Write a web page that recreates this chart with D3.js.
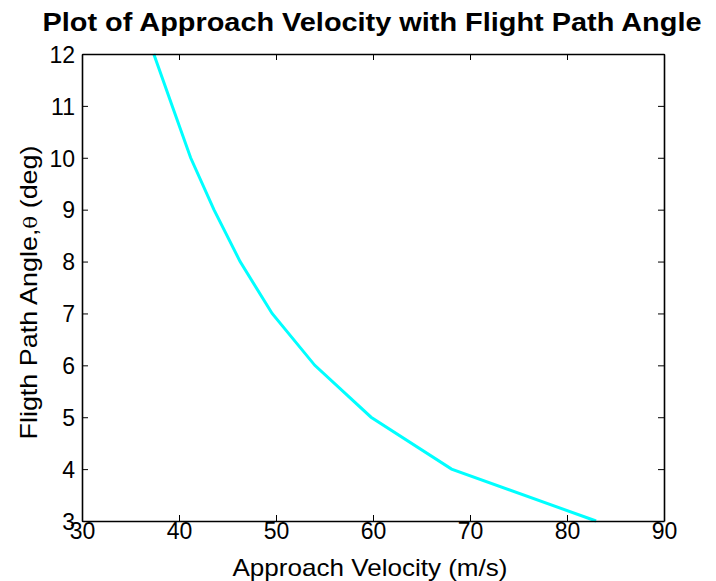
<!DOCTYPE html>
<html>
<head>
<meta charset="utf-8">
<script src="https://cdn.jsdelivr.net/npm/d3@7"></script>
<style>
  html, body { margin: 0; padding: 0; background: #fff; }
  svg { display: block; font-family: "Liberation Sans", Arial, sans-serif; }
</style>
</head>
<body>
<svg id="chart" width="716" height="581"></svg>
<script>
// Flight path angle (deg) and the matching approach velocity (m/s)
const angles = [3, 4, 5, 6, 7, 8, 9, 10, 11, 12];
const velocities = [83.0, 68.1, 59.8, 54.0, 49.6, 46.3, 43.6, 41.2, 39.3, 37.4];
const xTicks = [30, 40, 50, 60, 70, 80, 90];
const yTicks = [3, 4, 5, 6, 7, 8, 9, 10, 11, 12];

const titleText = "Plot of Approach Velocity with Flight Path Angle";
const xLabel = "Approach Velocity (m/s)";

const svg = d3.select("#chart");
const plotL = 82, plotR = 664, plotT = 54, plotB = 521;

const x = d3.scaleLinear().domain([30, 90]).range([plotL, plotR]);
const y = d3.scaleLinear().domain([3, 12]).range([plotB, plotT]);

// Curve
const line = d3.line()
  .x((d, i) => x(velocities[i]))
  .y(d => y(d));

svg.append("path")
  .datum(angles)
  .attr("d", line)
  .attr("fill", "none")
  .attr("stroke", "#00ffff")
  .attr("stroke-width", 3);

// Axes with inward ticks on all four sides
const tickLen = 6;
const axisStyle = g => {
  g.select(".domain").attr("stroke", "#000").attr("stroke-width", 1.6);
  g.selectAll(".tick line").attr("stroke", "#000").attr("stroke-width", 1);
  g.selectAll("text").attr("fill", "#000").style("font-size", "23px")
    .attr("font-family", "Liberation Sans, Arial, sans-serif");
};

svg.append("g")
  .attr("transform", `translate(0,${plotB})`)
  .call(d3.axisBottom(x).tickValues(xTicks).tickSize(-tickLen).tickPadding(0).tickSizeOuter(0))
  .call(axisStyle)
  .call(g => g.selectAll("text").attr("y", 17.5).attr("dy", 0));

svg.append("g")
  .attr("transform", `translate(0,${plotT})`)
  .call(d3.axisTop(x).tickValues(xTicks).tickSize(-tickLen).tickSizeOuter(0).tickFormat(""))
  .call(axisStyle);

svg.append("g")
  .attr("transform", `translate(${plotL},0)`)
  .call(d3.axisLeft(y).tickValues(yTicks).tickSize(-tickLen).tickPadding(0).tickSizeOuter(0))
  .call(axisStyle)
  .call(g => g.selectAll("text").attr("x", -7).attr("dy", "0.36em"));

svg.append("g")
  .attr("transform", `translate(${plotR},0)`)
  .call(d3.axisRight(y).tickValues(yTicks).tickSize(-tickLen).tickSizeOuter(0).tickFormat(""))
  .call(axisStyle);

// Title and axis labels
svg.append("text")
  .attr("x", 372)
  .attr("y", 31)
  .attr("text-anchor", "middle")
  .attr("font-weight", "bold")
  .attr("textLength", 659)
  .attr("lengthAdjust", "spacingAndGlyphs")
  .style("font-size", "26px")
  .text(titleText);

svg.append("text")
  .attr("x", 370)
  .attr("y", 575.5)
  .attr("text-anchor", "middle")
  .attr("textLength", 275)
  .attr("lengthAdjust", "spacingAndGlyphs")
  .style("font-size", "24px")
  .text(xLabel);

const yLab = svg.append("text")
  .attr("transform", "translate(37,292.5) rotate(-90)")
  .attr("text-anchor", "middle")
  .attr("textLength", 294)
  .attr("lengthAdjust", "spacingAndGlyphs")
  .style("font-size", "24px");
yLab.append("tspan").text("Fligth Path Angle,");
yLab.append("tspan").attr("font-family", "DejaVu Serif, serif").style("font-size", "19px").text("θ");
yLab.append("tspan").text(" (deg)");
</script>
</body>
</html>
